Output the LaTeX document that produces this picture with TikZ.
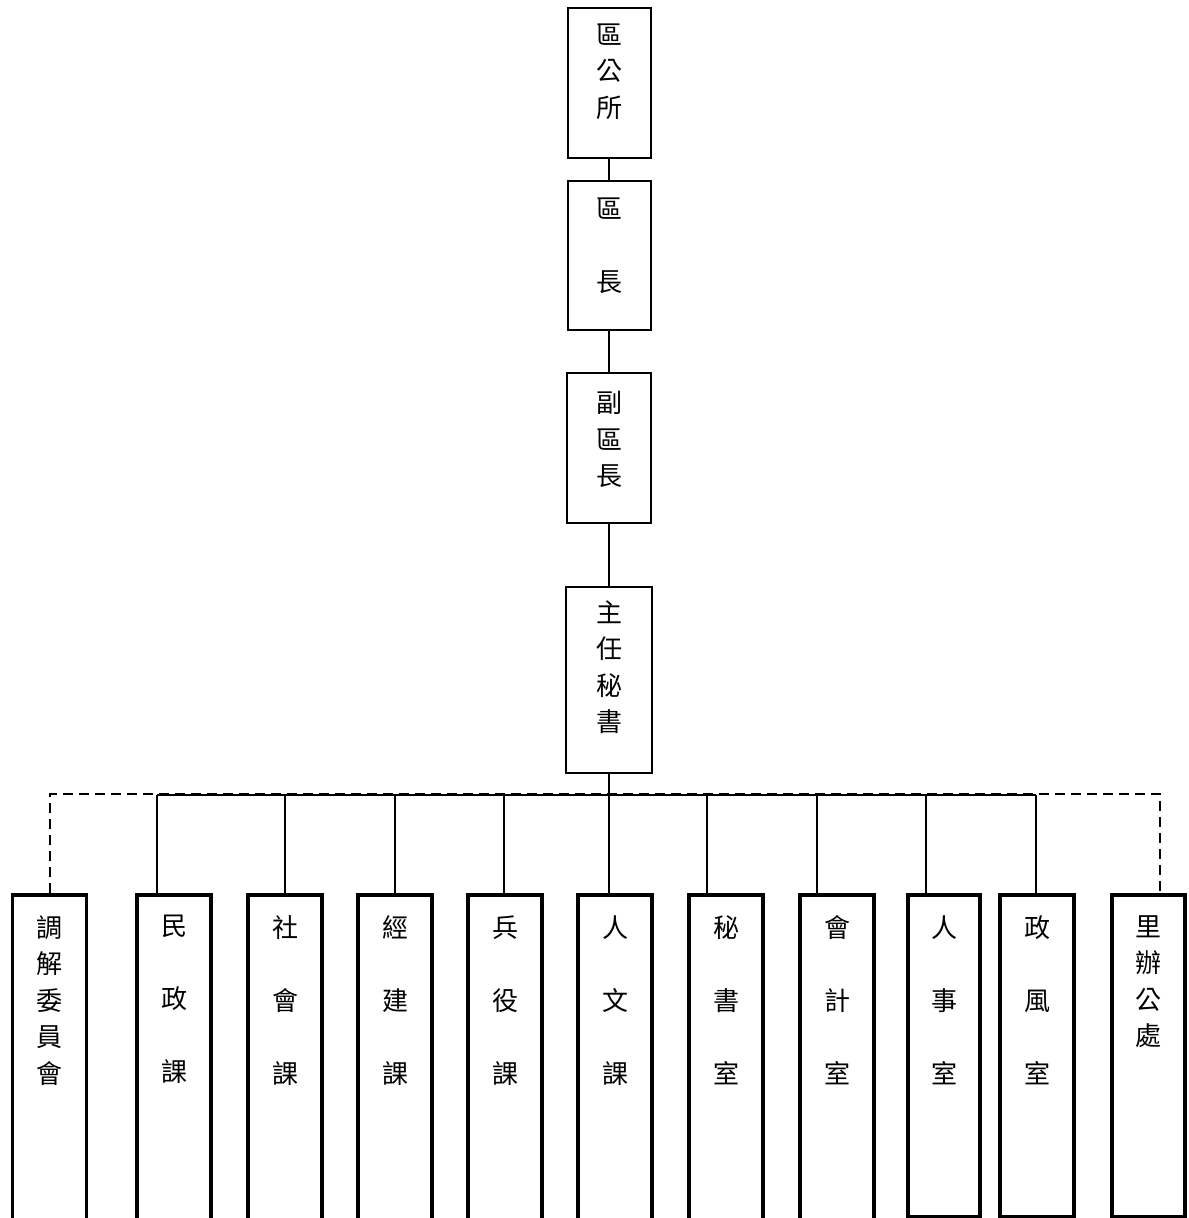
\documentclass[tikz,border=0pt]{standalone}
\usepackage{fontspec}
\newfontfamily\cjk{Noto Sans CJK TC}
\usetikzlibrary{positioning}
\tikzset{
  head/.style={draw, line width=1pt, minimum width=41.5pt, inner sep=0pt},
  unit/.style={draw, line width=1.75pt, minimum width=37pt, anchor=north, inner sep=0pt},
  txt/.style={anchor=north, align=center, inner sep=0pt, yshift=#1, font=\cjk\fontsize{13}{18.25}\selectfont},
  txt/.default=-11pt,
  link/.style={line width=1pt},
  dashlink/.style={line width=1pt, dash pattern=on 5pt off 3pt}
}
\newcommand{\gap}{\\[18.25pt]}

\begin{document}
\begin{tikzpicture}[x=0.5pt, y=-0.5pt]
    \useasboundingbox (0,0) rectangle (1188,1218);

    \node[head, minimum height=75pt, label={[txt=-8pt]north:{區\\公\\所}}] (office) at (609,83) {};
    \node[head, minimum height=74.5pt, label={[txt=-8.5pt]north:{區\gap 長}}] (chief) [below=10.5pt of office] {};
    \node[head, minimum height=75pt, minimum width=42pt, label={[txt=-9.5pt]north:{副\\區\\長}}] (deputy) [below=20.5pt of chief] {};
    \node[head, minimum height=93pt, minimum width=43pt, label={[txt=-7pt]north:{主\\任\\秘\\書}}] (secretary) [below=31pt of deputy] {};
    \draw[link] (office) -- (chief) (chief) -- (deputy) (deputy) -- (secretary);

    \node[unit, minimum height=190pt, label={[txt]north:{調\\解\\委\\員\\會}}] (mediation) at (49.5,893) {};
    \node[unit, minimum height=190pt, label={[txt]north:{民\gap 政\gap 課}}] (civil) at (174,893) {};
    \node[unit, minimum height=190pt, label={[txt]north:{社\gap 會\gap 課}}] (social) at (285,893) {};
    \node[unit, minimum height=190pt, label={[txt]north:{經\gap 建\gap 課}}] (economic) at (395,893) {};
    \node[unit, minimum height=190pt, label={[txt]north:{兵\gap 役\gap 課}}] (military) at (505,893) {};
    \node[unit, minimum height=190pt, label={[txt]north:{人\gap 文\gap 課}}] (culture) at (615,893) {};
    \node[unit, minimum height=190pt, label={[txt]north:{秘\gap 書\gap 室}}] (clerk) at (726,893) {};
    \node[unit, minimum height=190pt, label={[txt]north:{會\gap 計\gap 室}}] (accounting) at (837,893) {};
    \node[unit, minimum height=161pt, minimum width=36pt, label={[txt]north:{人\gap 事\gap 室}}] (personnel) at (944,893) {};
    \node[unit, minimum height=161pt, label={[txt]north:{政\gap 風\gap 室}}] (ethics) at (1037,893) {};
    \node[unit, minimum height=161pt, minimum width=36.5pt, label={[txt]north:{里\\辦\\公\\處}}] (village) at (1148.5,893) {};

    \coordinate (busleft) at (49.5,794);
    \coordinate (busright) at (1160,794);
    \coordinate (dcivil) at (157,795);
    \coordinate (dsocial) at (285,795);
    \coordinate (deconomic) at (395,795);
    \coordinate (dmilitary) at (504,795);
    \coordinate (dculture) at (609,795);
    \coordinate (dclerk) at (707,795);
    \coordinate (daccounting) at (817,795);
    \coordinate (dpersonnel) at (926,795);
    \coordinate (dethics) at (1036,795);

    \draw[dashlink] (mediation.north) -- (busleft) -- (busright) -- (busright |- village.north);
    \draw[link] (dcivil) -- (dethics);
    \draw[link] (secretary) -- (dculture) -- (dculture |- culture.north);
    \draw[link] (dcivil) -- (dcivil |- civil.north)
                (dsocial) -- (dsocial |- social.north)
                (deconomic) -- (deconomic |- economic.north)
                (dmilitary) -- (dmilitary |- military.north)
                (dclerk) -- (dclerk |- clerk.north)
                (daccounting) -- (daccounting |- accounting.north)
                (dpersonnel) -- (dpersonnel |- personnel.north)
                (dethics) -- (dethics |- ethics.north);
\end{tikzpicture}
\end{document}
